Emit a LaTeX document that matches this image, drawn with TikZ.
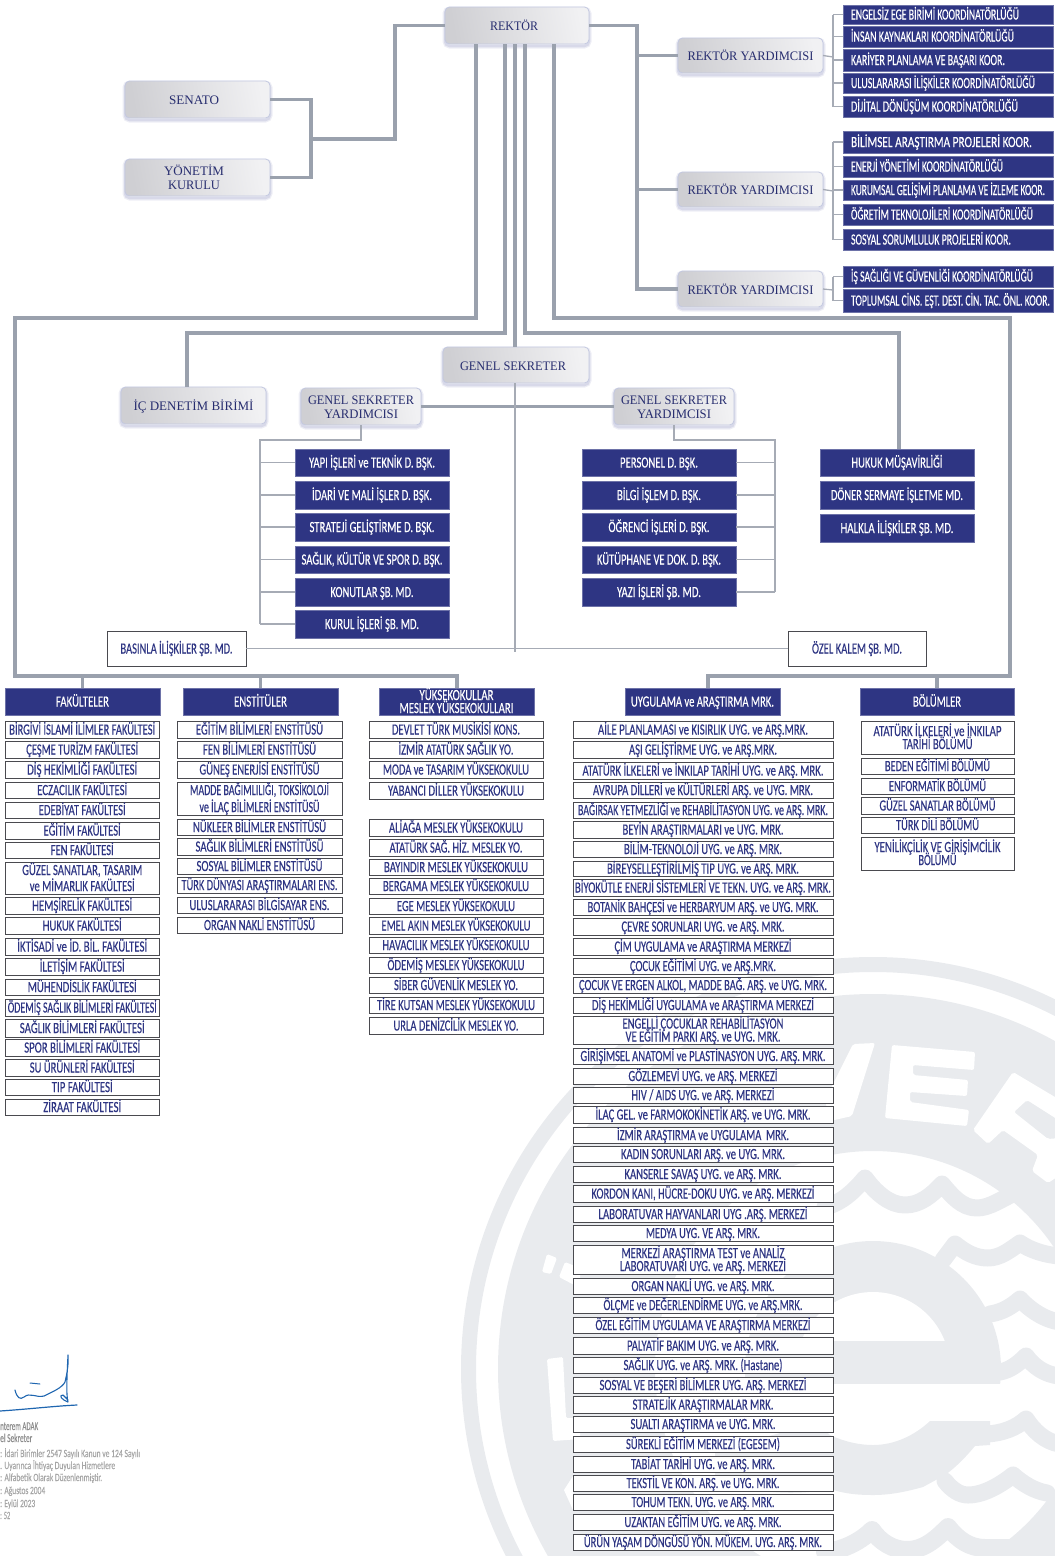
\documentclass[tikz,border=0pt]{standalone}
\usepackage{fontspec}
\setmainfont{Liberation Serif}
\newfontfamily\cnd[FakeBold=0.3]{Carlito}
\newfontfamily\ser{Liberation Serif}
\definecolor{navy}{HTML}{2E3583}
\definecolor{wm}{HTML}{E9EBEE}
\definecolor{ln}{HTML}{9AA1AD}
\definecolor{thn}{HTML}{A6ABB5}
\definecolor{bd}{HTML}{4A4A4F}
\definecolor{gl}{HTML}{F1F1F3}
\definecolor{gr}{HTML}{CFCFD3}
\definecolor{bdl}{HTML}{C3C8E0}
\definecolor{shd}{HTML}{8A8FBE}
\definecolor{sig}{HTML}{1F66B0}
\newcommand\tightlines{\lineskiplimit=-20pt\relax}
\tikzset{
 gbox/.style={rounded corners=4.5pt,left color=gl,right color=gr,shading angle=280,draw=bdl,line width=.8pt,
   text=navy!85!black,align=center,font=\ser\fontsize{13}{14}\selectfont\tightlines,
   preaction={draw=shd,line width=5pt,opacity=.15,transform canvas={yshift=-2pt}},
   preaction={draw=shd,line width=2.5pt,opacity=.22,transform canvas={yshift=-2pt}}},
 bluebox/.style={fill=navy,draw=navy!70,line width=.6pt,text=white,align=center,font=\cnd\fontsize{15.5}{13}\selectfont\tightlines},
 listbox/.style={fill=white,draw=bd,line width=1pt,text=navy,align=center,font=\cnd\fontsize{15.5}{13}\selectfont\tightlines},
 plainbox/.style={fill=white,draw=bd,line width=1pt,text=navy,align=center,font=\cnd\fontsize{15.5}{13}\selectfont},
 thick line/.style={draw=ln,line width=3.4pt},
 thin line/.style={draw=thn,line width=1.3pt},
 wave/.style={draw=wm,line width=17pt,line join=round,line cap=round},
 foot/.style={anchor=west,inner sep=0,text=gray!70,font=\cnd\fontsize{11}{12}\selectfont},
 footd/.style={anchor=west,inner sep=0,text=gray!110!black,font=\cnd\fontsize{12}{12}\selectfont}
}
\newsavebox\fwbox
\newcommand\W[2]{\sbox\fwbox{#2}\pgfmathsetmacro\fwr{#1/\the\wd\fwbox}\raisebox{0pt}[10pt][0pt]{\scalebox{\fwr}[1]{\usebox\fwbox}}}
\newcommand\bx[7]{%
 \pgfmathsetmacro\bw{#5-#3}\pgfmathsetmacro\bh{#6-#4}%
 \pgfmathsetmacro\bcx{(#5+#3)/2}\pgfmathsetmacro\bcy{(#6+#4)/2}%
 \node[#2,minimum width=\bw pt,minimum height=\bh pt,inner sep=0pt,outer sep=0pt] (#1) at (\bcx,\bcy) {#7};}
\newcommand\fa[5]{\bx{#1}{listbox}{5}{#2}{159.5}{#3}{\W{#4}{#5}}}
\newcommand\en[5]{\bx{#1}{listbox}{177}{#2}{342}{#3}{\W{#4}{#5}}}
\newcommand\yo[5]{\bx{#1}{listbox}{369}{#2}{543}{#3}{\W{#4}{#5}}}
\newcommand\ua[5]{\bx{#1}{listbox}{573}{#2}{833}{#3}{\W{#4}{#5}}}
\newcommand\bo[5]{\bx{#1}{listbox}{861}{#2}{1014}{#3}{\W{#4}{#5}}}
\newcommand\ko[5]{\bx{#1}{bluebox}{843}{#2}{1053}{#3}{\makebox[210pt][l]{\hspace*{8pt}\W{#4}{#5}}}}
\begin{document}
\begin{tikzpicture}[x=1pt,y=-1pt]
\useasboundingbox (0,0) rectangle (1055,1556);
% ---------- watermark
\begin{scope}
\clip (0,0) rectangle (1055,1556);
\fill[wm,even odd rule] (873,1369) circle[radius=412] circle[radius=397];
\fill[wm,even odd rule] (873,1369) circle[radius=375] circle[radius=218];
\begin{scope}\clip (700,1200) rectangle (1055,1383);
\fill[wm] (873,1369) circle[radius=128];
\end{scope}
\begin{scope}\clip (700,1200) rectangle (1055,1340);
\fill[white] (873,1369) circle[radius=77];
\end{scope}
% letters
\fill[white,rounded corners=2pt] (892,1045)--(975,1052)--(974,1070)--(913,1065)--(913,1075)--(968,1080)--(967,1096)--(910,1092)--(910,1102)--(969,1110)--(967,1126)--(885,1118)--cycle;
\fill[white,rounded corners=2pt] (853,1044)--(875,1043)--(852,1116)--(830,1121)--(825,1100)--cycle;
\fill[white,rounded corners=2pt] (973,1130)--(1013,1072)--(1060,1100)--(1060,1121)--(1027,1100)--(1014,1112)--(1048,1139)--(1060,1138)--(1060,1175)--(1048,1183)--(1032,1171)--(1038,1155)--(1003,1130)--(988,1144)--cycle;
\fill[white,rounded corners=1.5pt] (547,1359)--(563,1357)--(566,1418)--(580,1418)--(580,1439)--(553,1441)--cycle;
\fill[white,rounded corners=1.5pt] (547,1254)--(557,1258)--(551,1274)--(542,1272)--cycle;
\fill[white,rounded corners=1.5pt] (565,1262)--(580,1268)--(580,1288)--(559,1277)--cycle;
\fill[white] (573,1476)--(564,1490)--(573,1510)--cycle;
% waves
\draw[wave] (825,1207) .. controls (842,1203) and (855,1190) .. (865,1178) .. controls (876,1193) and (890,1205) .. (905,1205) .. controls (920,1205) and (932,1195) .. (942,1184) .. controls (952,1196) and (962,1208) .. (977,1208) .. controls (990,1208) and (1003,1198) .. (1015,1193);
\draw[wave] (943,1260) -- (955,1244) .. controls (965,1252) and (975,1258) .. (988,1258) .. controls (1000,1258) and (1010,1250) .. (1020,1243) .. controls (1030,1250) and (1045,1255) .. (1060,1256);
\draw[wave] (990,1314) .. controls (1003,1312) and (1012,1306) .. (1020,1299) .. controls (1030,1310) and (1045,1320) .. (1060,1322);
\draw[wave] (1000,1372) .. controls (1010,1370) and (1018,1364) .. (1026,1356) .. controls (1033,1366) and (1045,1375) .. (1060,1376);
\draw[wave] (987,1434) .. controls (1003,1433) and (1016,1428) .. (1026,1419) .. controls (1033,1430) and (1045,1442) .. (1060,1444);
\draw[wave] (945,1481) .. controls (952,1490) and (960,1495) .. (968,1495) .. controls (985,1495) and (1003,1483) .. (1013,1475) .. controls (1023,1484) and (1035,1491) .. (1047,1493);
\draw[wave,line width=18pt] (825,1552) .. controls (845,1550) and (862,1540) .. (872,1530) .. controls (880,1542) and (893,1550) .. (907,1550) .. controls (925,1550) and (938,1537) .. (948,1527) .. controls (958,1540) and (970,1548) .. (985,1548) -- (1020,1548);
% sun reflection
\fill[wm] (715,1445) .. controls (770,1440) and (800,1426) .. (815,1421) -- (830,1435) .. controls (845,1442) and (860,1445) .. (873,1445) .. controls (895,1445) and (915,1435) .. (930,1421) -- (990,1421) -- (990,1445) -- (975,1446) .. controls (965,1458) and (955,1468) .. (945,1475) -- (923,1487) .. controls (905,1492) and (890,1495) .. (873,1495) .. controls (850,1495) and (840,1492) .. (830,1489) .. controls (800,1495) and (760,1495) .. (715,1480) -- cycle;
\end{scope}
% ---------- boxes
\bx{rek}{gbox}{445}{7}{589}{44}{\hspace*{-6pt}\W{48}{REKTÖR}}
\bx{sen}{gbox}{125}{81}{270}{118}{\hspace*{-7pt}\W{50}{SENATO}}
\bx{yon}{gbox}{125}{159}{270}{196}{\hspace*{-7pt}\W{60}{YÖNETİM}\\\hspace*{-7pt}\W{52}{KURULU}}
\bx{ry1}{gbox}{678}{38}{823}{73}{\W{126}{REKTÖR YARDIMCISI}}
\bx{ry2}{gbox}{678}{172}{823}{207}{\W{126}{REKTÖR YARDIMCISI}}
\bx{ry3}{gbox}{678}{271}{823}{307}{\W{126}{REKTÖR YARDIMCISI}}
\bx{gs}{gbox}{443}{347}{589}{383}{\hspace*{-6pt}\W{106}{GENEL SEKRETER}}
\bx{ic}{gbox}{121}{387}{266}{424}{\W{120}{İÇ DENETİM BİRİMİ}}
\bx{gyl}{gbox}{301}{388}{421}{425}{\W{106}{GENEL SEKRETER}\\\W{74}{YARDIMCISI}}
\bx{gyr}{gbox}{614}{388}{734}{425}{\W{106}{GENEL SEKRETER}\\\W{74}{YARDIMCISI}}
% coordinators
\ko{k1}{5}{24}{168}{ENGELSİZ EGE BİRİMİ KOORDİNATÖRLÜĞÜ}
\ko{k2}{26}{47}{163}{İNSAN KAYNAKLARI KOORDİNATÖRLÜĞÜ}
\ko{k3}{49}{71}{154}{KARİYER PLANLAMA VE BAŞARI KOOR.}
\ko{k4}{73}{93}{184}{ULUSLARARASI İLİŞKİLER KOORDİNATÖRLÜĞÜ}
\ko{k5}{96}{117}{167}{DİJİTAL DÖNÜŞÜM KOORDİNATÖRLÜĞÜ}
\ko{k6}{131}{153}{181}{BİLİMSEL ARAŞTIRMA PROJELERİ KOOR.}
\ko{k7}{156}{177}{152}{ENERJİ YÖNETİMİ KOORDİNATÖRLÜĞÜ}
\ko{k8}{180}{200}{194}{KURUMSAL GELİŞİMİ PLANLAMA VE İZLEME KOOR.}
\ko{k9}{204}{225}{182}{ÖĞRETİM TEKNOLOJİLERİ KOORDİNATÖRLÜĞÜ}
\ko{k10}{229}{250}{160}{SOSYAL SORUMLULUK PROJELERİ KOOR.}
\ko{k11}{266}{287}{182}{İŞ SAĞLIĞI VE GÜVENLİĞİ KOORDİNATÖRLÜĞÜ}
\ko{k12}{289}{312}{199}{TOPLUMSAL CİNS. EŞT. DEST. CİN. TAC. ÖNL. KOOR.}
% left blue
\bx{l1}{bluebox}{295}{449}{449}{476}{\W{126}{YAPI İŞLERİ ve TEKNİK D. BŞK.}}
\bx{l2}{bluebox}{295}{481}{449}{509}{\W{120}{İDARİ VE MALİ İŞLER D. BŞK.}}
\bx{l3}{bluebox}{295}{513}{449}{541}{\W{125}{STRATEJİ GELİŞTİRME D. BŞK.}}
\bx{l4}{bluebox}{295}{546}{449}{573}{\W{141}{SAĞLIK, KÜLTÜR VE SPOR D. BŞK.}}
\bx{l5}{bluebox}{295}{578}{449}{606}{\W{83}{KONUTLAR ŞB. MD.}}
\bx{l6}{bluebox}{295}{610}{449}{638}{\W{94}{KURUL İŞLERİ ŞB. MD.}}
\bx{m1}{bluebox}{582}{449}{736}{476}{\W{78}{PERSONEL D. BŞK.}}
\bx{m2}{bluebox}{582}{481}{736}{509}{\W{84}{BİLGİ İŞLEM D. BŞK.}}
\bx{m3}{bluebox}{582}{513}{736}{541}{\W{101}{ÖĞRENCİ İŞLERİ D. BŞK.}}
\bx{m4}{bluebox}{582}{546}{736}{573}{\W{124}{KÜTÜPHANE VE DOK. D. BŞK.}}
\bx{m5}{bluebox}{582}{578}{736}{606}{\W{84}{YAZI İŞLERİ ŞB. MD.}}
\bx{r1}{bluebox}{820}{449}{974}{476}{\W{91}{HUKUK MÜŞAVİRLİĞİ}}
\bx{r2}{bluebox}{820}{481}{974}{509}{\W{132}{DÖNER SERMAYE İŞLETME MD.}}
\bx{r3}{bluebox}{820}{514}{974}{542}{\W{113}{HALKLA İLİŞKİLER ŞB. MD.}}
\bx{bas}{plainbox}{107}{631}{246}{666}{\W{112}{BASINLA İLİŞKİLER ŞB. MD.}}
\bx{oze}{plainbox}{788}{631}{926}{666}{\W{90}{ÖZEL KALEM ŞB. MD.}}
% headers
\bx{hf}{bluebox}{5}{688}{160}{715}{\W{53}{FAKÜLTELER}}
\bx{he}{bluebox}{183}{688}{338}{715}{\W{53}{ENSTİTÜLER}}
\bx{hy}{bluebox}{379}{688}{534}{715}{\W{74}{YÜKSEKOKULLAR}\\\W{114}{MESLEK YÜKSEKOKULLARI}}
\bx{hu}{bluebox}{625}{688}{780}{715}{\W{143}{UYGULAMA ve ARAŞTIRMA MRK.}}
\bx{hb}{bluebox}{860}{688}{1014}{715}{\W{48}{BÖLÜMLER}}
% faculties
\fa{f1}{721}{738}{146}{BİRGİVİ İSLAMİ İLİMLER FAKÜLTESİ}
\fa{f2}{741}{758}{112}{ÇEŞME TURİZM FAKÜLTESİ}
\fa{f3}{761}{778}{110}{DİŞ HEKİMLİĞİ FAKÜLTESİ}
\fa{f4}{782}{798}{90}{ECZACILIK FAKÜLTESİ}
\fa{f5}{802}{818}{87}{EDEBİYAT FAKÜLTESİ}
\fa{f6}{822}{839}{77}{EĞİTİM FAKÜLTESİ}
\fa{f7}{842}{858}{63}{FEN FAKÜLTESİ}
\bx{f8}{listbox}{5}{862}{159.5}{894}{\W{120}{GÜZEL SANATLAR, TASARIM}\\[3pt]\W{105}{ve MİMARLIK FAKÜLTESİ}}
\fa{f9}{897}{914}{100}{HEMŞİRELİK FAKÜLTESİ}
\fa{f10}{917}{934}{79}{HUKUK FAKÜLTESİ}
\fa{f11}{938}{955}{130}{İKTİSADİ ve İD. BİL. FAKÜLTESİ}
\fa{f12}{958}{975}{85}{İLETİŞİM FAKÜLTESİ}
\fa{f13}{979}{995}{109}{MÜHENDİSLİK FAKÜLTESİ}
\fa{f14}{999}{1016}{149}{ÖDEMİŞ SAĞLIK BİLİMLERİ FAKÜLTESİ}
\fa{f15}{1019}{1037}{125}{SAĞLIK BİLİMLERİ FAKÜLTESİ}
\fa{f16}{1039}{1056}{116}{SPOR BİLİMLERİ FAKÜLTESİ}
\fa{f17}{1059}{1076}{105}{SU ÜRÜNLERİ FAKÜLTESİ}
\fa{f18}{1079}{1095}{61}{TIP FAKÜLTESİ}
\fa{f19}{1099}{1115}{78}{ZİRAAT FAKÜLTESİ}
% institutes
\en{e1}{721}{738}{127}{EĞİTİM BİLİMLERİ ENSTİTÜSÜ}
\en{e2}{741}{758}{113}{FEN BİLİMLERİ ENSTİTÜSÜ}
\en{e3}{761}{778}{120}{GÜNEŞ ENERJİSİ ENSTİTÜSÜ}
\bx{e4}{listbox}{177}{782}{342}{815}{\W{139}{MADDE BAĞIMLILIĞI, TOKSİKOLOJİ}\\[4pt]\W{120}{ve İLAÇ BİLİMLERİ ENSTİTÜSÜ}}
\en{e5}{819}{835}{133}{NÜKLEER BİLİMLER ENSTİTÜSÜ}
\en{e6}{838}{855}{128}{SAĞLIK BİLİMLERİ ENSTİTÜSÜ}
\en{e7}{858}{874}{126}{SOSYAL BİLİMLER ENSTİTÜSÜ}
\en{e8}{877}{893}{156}{TÜRK DÜNYASI ARAŞTIRMALARI ENS.}
\en{e9}{897}{913}{140}{ULUSLARARASI BİLGİSAYAR ENS.}
\en{e10}{917}{933}{111}{ORGAN NAKLİ ENSTİTÜSÜ}
% schools
\yo{y1}{721}{738}{128}{DEVLET TÜRK MUSİKİSİ KONS.}
\yo{y2}{741}{758}{115}{İZMİR ATATÜRK SAĞLIK YO.}
\yo{y3}{761}{778}{146}{MODA ve TASARIM YÜKSEKOKULU}
\yo{y4}{782}{799}{136}{YABANCI DİLLER YÜKSEKOKULU}
\yo{y5}{819}{836}{134}{ALİAĞA MESLEK YÜKSEKOKULU}
\yo{y6}{839}{856}{133}{ATATÜRK SAĞ. HİZ. MESLEK YO.}
\yo{y7}{859}{875}{144}{BAYINDIR MESLEK YÜKSEKOKULU}
\yo{y8}{878}{894}{146}{BERGAMA MESLEK YÜKSEKOKULU}
\yo{y9}{898}{914}{118}{EGE MESLEK YÜKSEKOKULU}
\yo{y10}{917}{934}{149}{EMEL AKIN MESLEK YÜKSEKOKULU}
\yo{y11}{937}{953}{147}{HAVACILIK MESLEK YÜKSEKOKULU}
\yo{y12}{957}{973}{137}{ÖDEMİŞ MESLEK YÜKSEKOKULU}
\yo{y13}{977}{993}{124}{SİBER GÜVENLİK MESLEK YO.}
\yo{y14}{997}{1013}{158}{TİRE KUTSAN MESLEK YÜKSEKOKULU}
\yo{y15}{1017}{1034}{125}{URLA DENİZCİLİK MESLEK YO.}
% centres
\ua{u1}{721}{738}{210}{AİLE PLANLAMASI ve KISIRLIK UYG. ve ARŞ.MRK.}
\ua{u2}{741}{758}{148}{AŞI GELİŞTİRME UYG. ve ARŞ.MRK.}
\ua{u3}{762}{779}{241}{ATATÜRK İLKELERİ ve İNKILAP TARİHİ UYG. ve ARŞ. MRK.}
\ua{u4}{782}{798}{220}{AVRUPA DİLLERİ ve KÜLTÜRLERİ ARŞ. ve UYG. MRK.}
\ua{u5}{802}{818}{250}{BAĞIRSAK YETMEZLİĞİ ve REHABİLİTASYON UYG. ve ARŞ. MRK.}
\ua{u6}{821}{838}{161}{BEYİN ARAŞTIRMALARI ve UYG. MRK.}
\ua{u7}{841}{857}{158}{BİLİM-TEKNOLOJİ UYG. ve ARŞ. MRK.}
\ua{u8}{861}{876}{192}{BİREYSELLEŞTİRİLMİŞ TIP UYG. ve ARŞ. MRK.}
\ua{u9}{879}{896}{256}{BİYOKÜTLE ENERJİ SİSTEMLERİ VE TEKN. UYG. ve ARŞ. MRK.}
\ua{u10}{899}{915}{231}{BOTANİK BAHÇESİ ve HERBARYUM ARŞ. ve UYG. MRK.}
\ua{u11}{918}{935}{163}{ÇEVRE SORUNLARI UYG. ve ARŞ. MRK.}
\ua{u12}{938}{955}{177}{ÇİM UYGULAMA ve ARAŞTIRMA MERKEZİ}
\ua{u13}{958}{974}{146}{ÇOCUK EĞİTİMİ UYG. ve ARŞ.MRK.}
\ua{u14}{977}{993}{248}{ÇOCUK VE ERGEN ALKOL, MADDE BAĞ. ARŞ. ve UYG. MRK.}
\ua{u15}{997}{1013}{222}{DİŞ HEKİMLİĞİ UYGULAMA ve ARAŞTIRMA MERKEZİ}
\bx{u16}{listbox}{573}{1016}{833}{1044}{\W{161}{ENGELLİ ÇOCUKLAR REHABİLİTASYON}\\\W{155}{VE EĞİTİM PARKI ARŞ. ve UYG. MRK.}}
\ua{u17}{1048}{1064}{245}{GİRİŞİMSEL ANATOMİ ve PLASTİNASYON UYG. ARŞ. MRK.}
\ua{u18}{1068}{1084}{149}{GÖZLEMEVİ UYG. ve ARŞ. MERKEZİ}
\ua{u19}{1087}{1103}{143}{HIV / AIDS UYG. ve ARŞ. MERKEZİ}
\ua{u20}{1106}{1123}{215}{İLAÇ GEL. ve FARMOKOKİNETİK ARŞ. ve UYG. MRK.}
\ua{u21}{1127}{1143}{172}{İZMİR ARAŞTIRMA ve UYGULAMA\ \ MRK.}
\ua{u22}{1146}{1162}{164}{KADIN SORUNLARI ARŞ. ve UYG. MRK.}
\ua{u23}{1166}{1182}{157}{KANSERLE SAVAŞ UYG. ve ARŞ. MRK.}
\ua{u24}{1185}{1202}{223}{KORDON KANI, HÜCRE-DOKU UYG. ve ARŞ. MERKEZİ}
\ua{u25}{1206}{1222}{209}{LABORATUVAR HAYVANLARI UYG .ARŞ. MERKEZİ}
\ua{u26}{1225}{1241}{114}{MEDYA UYG. VE ARŞ. MRK.}
\bx{u27}{listbox}{573}{1245}{833}{1274}{\W{163}{MERKEZİ ARAŞTIRMA TEST ve ANALİZ}\\\W{166}{LABORATUVARI UYG. ve ARŞ. MERKEZİ}}
\ua{u28}{1278}{1294}{143}{ORGAN NAKLİ UYG. ve ARŞ. MRK.}
\ua{u29}{1297}{1313}{199}{ÖLÇME ve DEĞERLENDİRME UYG. ve ARŞ.MRK.}
\ua{u30}{1317}{1333}{215}{ÖZEL EĞİTİM UYGULAMA VE ARAŞTIRMA MERKEZİ}
\ua{u31}{1337}{1354}{152}{PALYATİF BAKIM UYG. ve ARŞ. MRK.}
\ua{u32}{1357}{1373}{159}{SAĞLIK UYG. ve ARŞ. MRK. (Hastane)}
\ua{u33}{1377}{1393}{207}{SOSYAL VE BEŞERİ BİLİMLER UYG. ARŞ. MERKEZİ}
\ua{u34}{1396}{1413}{141}{STRATEJİK ARAŞTIRMALAR MRK.}
\ua{u35}{1416}{1432}{145}{SUALTI ARAŞTIRMA ve UYG. MRK.}
\ua{u36}{1436}{1452}{154}{SÜREKLİ EĞİTİM MERKEZİ (EGESEM)}
\ua{u37}{1456}{1472}{144}{TABİAT TARİHİ UYG. ve ARŞ. MRK.}
\ua{u38}{1475}{1491}{153}{TEKSTİL VE KON. ARŞ. ve UYG. MRK.}
\ua{u39}{1494}{1510}{143}{TOHUM TEKN. UYG. ve ARŞ. MRK.}
\ua{u40}{1514}{1530}{157}{UZAKTAN EĞİTİM UYG. ve ARŞ. MRK.}
\ua{u41}{1534}{1550}{238}{ÜRÜN YAŞAM DÖNGÜSÜ YÖN. MÜKEM. UYG. ARŞ. MRK.}
% departments
\bx{b1}{listbox}{861}{721}{1014}{754}{\W{128}{ATATÜRK İLKELERİ ve İNKILAP}\\\W{70}{TARİHİ BÖLÜMÜ}}
\bo{b2}{758}{774}{105}{BEDEN EĞİTİMİ BÖLÜMÜ}
\bo{b3}{778}{794}{97}{ENFORMATİK BÖLÜMÜ}
\bo{b4}{797}{814}{116}{GÜZEL SANATLAR BÖLÜMÜ}
\bo{b5}{817}{833}{83}{TÜRK DİLİ BÖLÜMÜ}
\bx{b6}{listbox}{861}{837}{1014}{870}{\W{126}{YENİLİKÇİLİK VE GİRİŞİMCİLİK}\\\W{38}{BÖLÜMÜ}}
% ---------- junctions
\coordinate (a1) at (395,139);
\coordinate (a2) at (311,139);
\coordinate (a3) at (637,54);
\coordinate (d1) at (476,318);
\coordinate (d1b) at (15,318);
\coordinate (d1c) at (15,676);
\coordinate (d1d) at (457,676);
\coordinate (d2) at (505,333);
\coordinate (d2b) at (187,333);
\coordinate (d3) at (515,347);
\coordinate (d4) at (525,333);
\coordinate (d4b) at (899,333);
\coordinate (d5) at (554,318);
\coordinate (d5b) at (1010,318);
\coordinate (d5c) at (1010,676);
\coordinate (d5d) at (708,676);
\coordinate (c1) at (833,57);
\coordinate (c2) at (833,191);
\coordinate (c3) at (833,290);
\coordinate (gl) at (260,440);
\coordinate (gr) at (775,440);
\coordinate (sj) at (515,652);
% ---------- connectors
\draw[thick line] (sen.east) -| (a2) |- (yon.east);
\draw[thick line] (a2) -- (a1) |- (rek.west);
\draw[thick line] (rek.east) -| (a3) -- (a3 |- ry3.west) -- (ry3.west);
\draw[thick line] (a3 |- ry1.west) -- (ry1.west);
\draw[thick line] (a3 |- ry2.west) -- (ry2.west);
\draw[thick line] (rek.south -| d1) -- (d1) -- (d1b) -- (d1c) -- (d1d) -- (d1d |- hy.north);
\draw[thick line] (hf.north) -- (hf.north |- d1c);
\draw[thick line] (he.north) -- (he.north |- d1c);
\draw[thick line] (rek.south -| d2) -- (d2) -- (d2b) -- (d2b |- ic.north);
\draw[thick line] (rek.south -| d3) -- (d3);
\draw[thick line] (rek.south -| d4) -- (d4) -- (d4b) -- (d4b |- r1.north);
\draw[thick line] (rek.south -| d5) -- (d5) -- (d5b) -- (d5c) -- (d5d) -- (d5d |- hu.north);
\draw[thick line] (hb.north) -- (hb.north |- d5c);
\draw[thick line] (gyl.east) -- (gyr.west);
\draw[thin line] (d3 |- gs.south) -- (sj);
\draw[thin line] (bas.east) -- (oze.west);
% coordinators brackets
\draw[thin line] (ry1.east) -- (c1);
\draw[thin line] (k1.west -| c1) -- (k5.west -| c1);
\foreach \n in {k1,k2,k3,k4,k5}{\draw[thin line] (\n.west -| c1) -- (\n.west);}
\draw[thin line] (ry2.east) -- (c2);
\draw[thin line] (k6.west -| c2) -- (k10.west -| c2);
\foreach \n in {k6,k7,k8,k9,k10}{\draw[thin line] (\n.west -| c2) -- (\n.west);}
\draw[thin line] (ry3.east) -- (c3);
\draw[thin line] (k11.west -| c3) -- (k12.west -| c3);
\foreach \n in {k11,k12}{\draw[thin line] (\n.west -| c3) -- (\n.west);}
\draw[thin line] (gyl.south) |- (gl) -- (gl |- l6.west);
\foreach \n in {l1,l2,l3,l4,l5,l6}{\draw[thin line] (gl |- \n.west) -- (\n.west);}
\draw[thin line] (gyr.south) |- (gr) -- (gr |- m5.east);
\foreach \n in {m1,m2,m3,m4,m5}{\draw[thin line] (gr |- \n.east) -- (\n.east);}
% ---------- signature and footer
\draw[draw=sig,line width=1.2pt,line cap=round,line join=round]
 (0,1411) .. controls (30,1409) and (55,1406) .. (77,1405);
\draw[draw=sig,line width=1.1pt,line cap=round,line join=round]
 (15,1390) .. controls (17,1398) and (20,1400) .. (24,1397) .. controls (30,1392) and (36,1398) .. (44,1396) .. controls (52,1392) and (62,1388) .. (65,1382)
 .. controls (69,1365) and (68,1360) .. (68,1355) .. controls (67,1375) and (66,1395) .. (68,1402) .. controls (62,1400) and (58,1395) .. (63,1395) -- (68,1400);
\draw[draw=sig,line width=1pt,line cap=round] (30,1383) -- (40,1384);
\node[footd] (n1) at (0,1425) {\W{38}{nterem ADAK}};
\node[footd] (n2) at (0,1437) {\W{32}{el Sekreter}};
\node[foot] (n3) at (0,1452) {\W{140}{: İdari Birimler 2547 Sayılı Kanun ve 124 Sayılı}};
\node[foot] (n4) at (0,1464) {\W{115}{. Uyarınca İhtiyaç Duyulan Hizmetlere}};
\node[foot] (n5) at (0,1476) {\W{102}{: Alfabetik Olarak Düzenlenmiştir.}};
\node[foot] (n6) at (0,1489) {\W{45}{: Ağustos 2004}};
\node[foot] (n7) at (0,1502) {\W{35}{: Eylül 2023}};
\node[foot] (n8) at (0,1514) {\W{10}{: 52}};
\end{tikzpicture}
\end{document}
